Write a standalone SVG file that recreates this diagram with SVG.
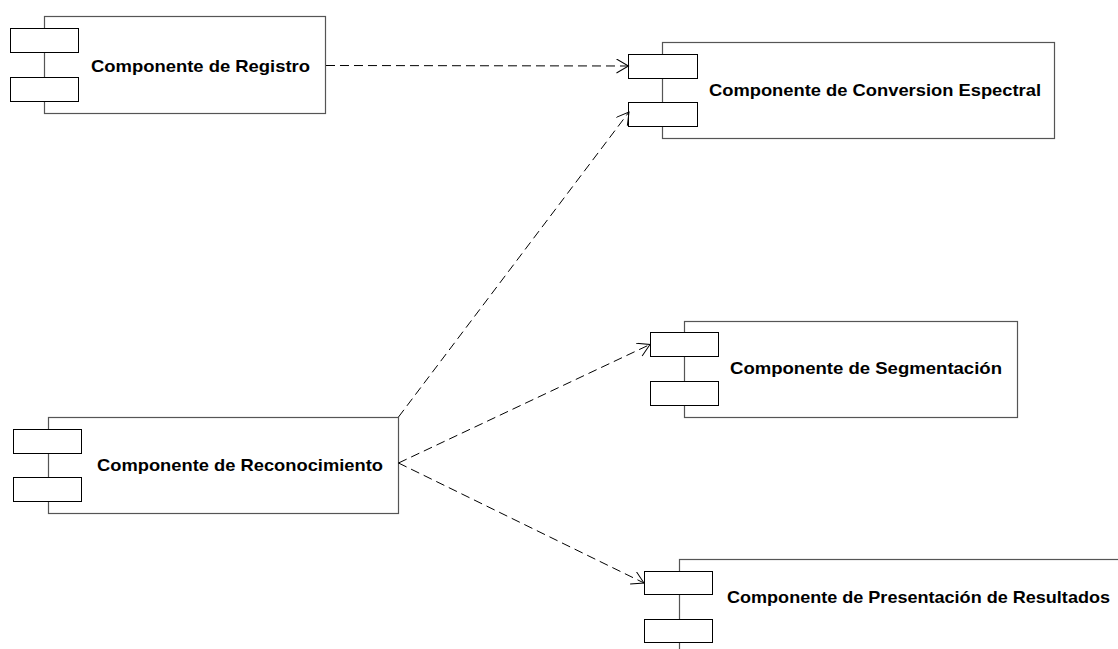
<svg xmlns="http://www.w3.org/2000/svg" width="1118" height="649" viewBox="0 0 1118 649">
  <style>
    .body { fill: #ffffff; stroke: #555555; stroke-width: 1.2; }
    .port { fill: #ffffff; stroke: #000000; stroke-width: 1; }
    .label { font-family: "Liberation Sans", Arial, sans-serif; font-weight: bold; font-size: 17px; fill: #000000; }
    .dep { fill: none; stroke: #000000; stroke-width: 1; stroke-dasharray: 9 5; }
  </style>
  <defs>
    <marker id="open-arrow" markerUnits="userSpaceOnUse" markerWidth="16" markerHeight="16" refX="13" refY="7" orient="auto">
      <path d="M1,0 L13,7 L1,14" fill="none" stroke="#000000" stroke-width="1"/>
    </marker>
  </defs>
  <rect width="1118" height="649" fill="#ffffff"/>

  <!-- Component: Registro -->
  <g id="registro">
    <rect class="body" x="44.5" y="16.5" width="281" height="97"/>
    <rect class="port" x="10.5" y="28.5" width="68" height="24"/>
    <rect class="port" x="10.5" y="77.5" width="68" height="24"/>
    <text class="label" x="91" y="72" textLength="219" lengthAdjust="spacingAndGlyphs">Componente de Registro</text>
  </g>

  <!-- Component: Conversion Espectral -->
  <g id="conversion">
    <rect class="body" x="662.5" y="42.5" width="392" height="96"/>
    <rect class="port" x="628.5" y="54.5" width="69" height="24"/>
    <rect class="port" x="628.5" y="102.5" width="69" height="24"/>
    <text class="label" x="709" y="96" textLength="332" lengthAdjust="spacingAndGlyphs">Componente de Conversion Espectral</text>
  </g>

  <!-- Component: Reconocimiento -->
  <g id="reconocimiento">
    <rect class="body" x="48.5" y="417.5" width="350" height="96"/>
    <rect class="port" x="13.5" y="429.5" width="68" height="24"/>
    <rect class="port" x="13.5" y="477.5" width="68" height="24"/>
    <text class="label" x="97" y="471" textLength="286" lengthAdjust="spacingAndGlyphs">Componente de Reconocimiento</text>
  </g>

  <!-- Component: Segmentacion -->
  <g id="segmentacion">
    <rect class="body" x="684.5" y="321.5" width="333" height="96"/>
    <rect class="port" x="650.5" y="332.5" width="68" height="24"/>
    <rect class="port" x="650.5" y="381.5" width="68" height="24"/>
    <text class="label" x="730" y="374" textLength="272" lengthAdjust="spacingAndGlyphs">Componente de Segmentación</text>
  </g>

  <!-- Component: Presentacion de Resultados (runs past the canvas edge) -->
  <g id="presentacion">
    <rect class="body" x="679.5" y="559.5" width="460" height="100"/>
    <rect class="port" x="644.5" y="571.5" width="68" height="23"/>
    <rect class="port" x="644.5" y="619.5" width="68" height="23"/>
    <text class="label" x="727" y="603" textLength="383" lengthAdjust="spacingAndGlyphs">Componente de Presentación de Resultados</text>
  </g>

  <!-- Dependencies -->
  <g id="connectors">
    <line class="dep" x1="326" y1="65.5" x2="628.5" y2="66" marker-end="url(#open-arrow)"/>
    <line class="dep" x1="398.5" y1="417" x2="629" y2="112" marker-end="url(#open-arrow)"/>
    <line class="dep" x1="398.5" y1="463" x2="650" y2="344.5" marker-end="url(#open-arrow)"/>
    <line class="dep" x1="398.5" y1="463" x2="644" y2="583" marker-end="url(#open-arrow)"/>
  </g>
</svg>
